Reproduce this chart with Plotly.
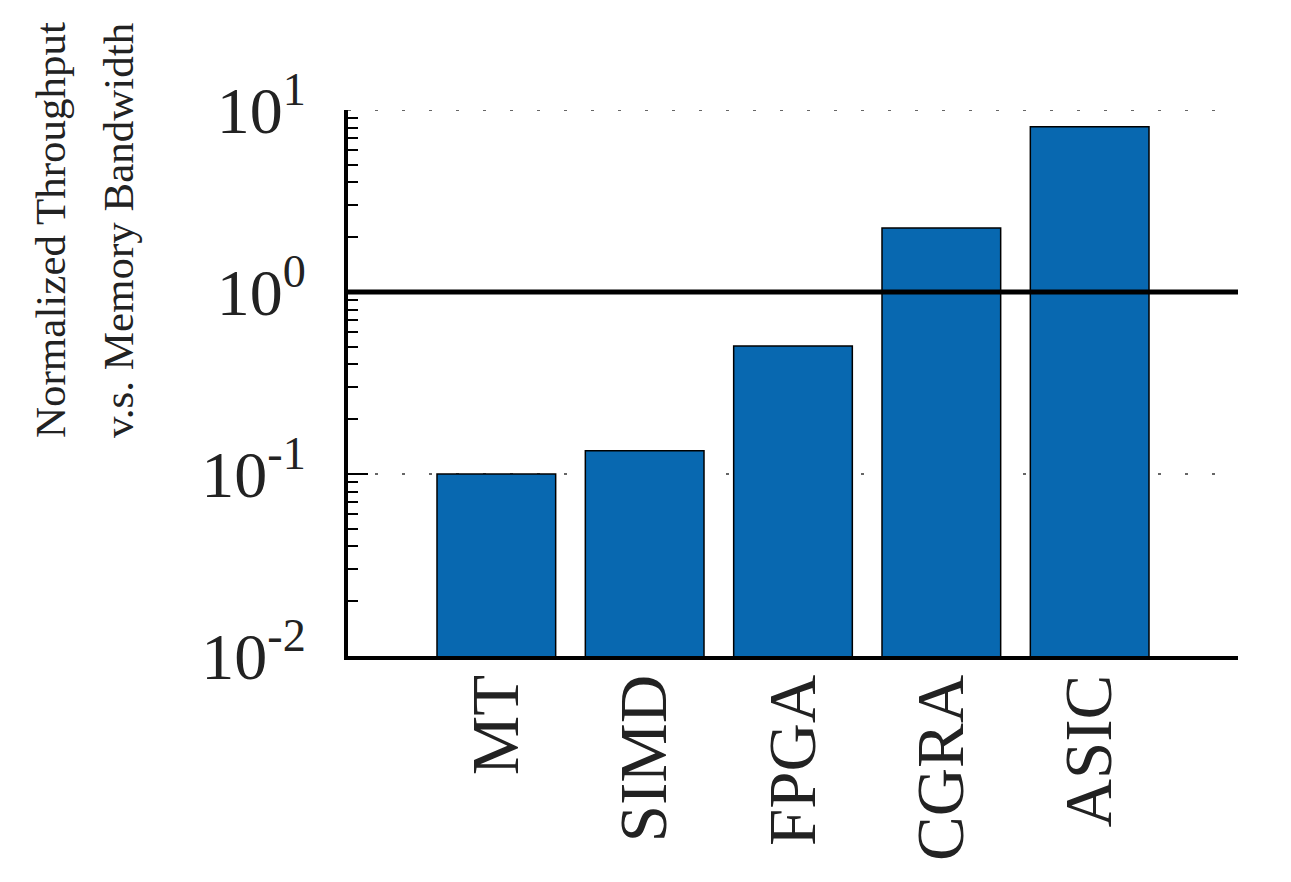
import plotly.graph_objects as go

categories = ["MT", "SIMD", "FPGA", "CGRA", "ASIC"]
throughput = [0.1, 0.134, 0.505, 2.25, 8.1]
ytick_vals = [0.01, 0.1, 1, 10]
ytick_text = ["10<sup>-2</sup>", "10<sup>-1</sup>", "10<sup>0</sup>", "10<sup>1</sup>"]
reference_level = 1
title_lines = ["Normalized Throughput", "v.s. Memory Bandwidth"]

FONT = "Liberation Serif"
L, R, T, B = 340, 61, 102, 234
PW = 1291 - L - R
PH = 882 - T - B
GRID_DASH = "3px,24px"

fig = go.Figure()
fig.add_trace(go.Bar(
    x=categories, y=throughput, width=0.8,
    marker=dict(color="#0868B0", line=dict(color="black", width=1.5)),
))

# dotted gridline at the top decade (plotly hides grid at the range edge)
fig.add_shape(type="line", xref="paper", x0=0, x1=1, yref="y",
              y0=ytick_vals[-1], y1=ytick_vals[-1],
              line=dict(color="#666", width=2, dash=GRID_DASH), layer="below")

fig.add_shape(type="line", xref="paper", x0=0, x1=1, yref="y",
              y0=reference_level, y1=reference_level,
              line=dict(color="black", width=5), layer="above")

# two-line y title, placed as separate rotated lines
for line, xpix in zip(title_lines, [42, 110]):
    fig.add_annotation(text=line, textangle=-90,
                       xref="paper", yref="paper",
                       x=(xpix - L) / PW, y=(882 - B - 222) / PH,
                       xanchor="center", yanchor="middle", showarrow=False,
                       font=dict(family=FONT, size=43, color="#222"))

fig.update_layout(
    width=1291, height=882,
    margin=dict(l=L, r=R, t=T, b=B),
    plot_bgcolor="white", paper_bgcolor="white",
    showlegend=False,
    font=dict(family=FONT, color="#222"),
    xaxis=dict(type="category", range=[-1, 5], showline=True, linecolor="black",
               linewidth=4, ticks="", tickangle=-90, showgrid=False, automargin=False,
               ticklabelstandoff=-12,
               tickfont=dict(family=FONT, size=67, color="#222")),
    yaxis=dict(type="log", range=[-2, 1], tickvals=ytick_vals, ticktext=ytick_text,
               showline=True, linecolor="black", linewidth=4, automargin=False,
               ticks="inside", ticklen=20, tickwidth=2, tickcolor="black",
               ticklabelstandoff=25,
               showgrid=True, gridcolor="#666", gridwidth=2, griddash=GRID_DASH,
               zeroline=False,
               minor=dict(ticks="inside", ticklen=10, tickwidth=2, tickcolor="black",
                          dtick="D1", showgrid=False),
               tickfont=dict(family=FONT, size=66, color="#222")),
)

fig.write_html("out.html")
